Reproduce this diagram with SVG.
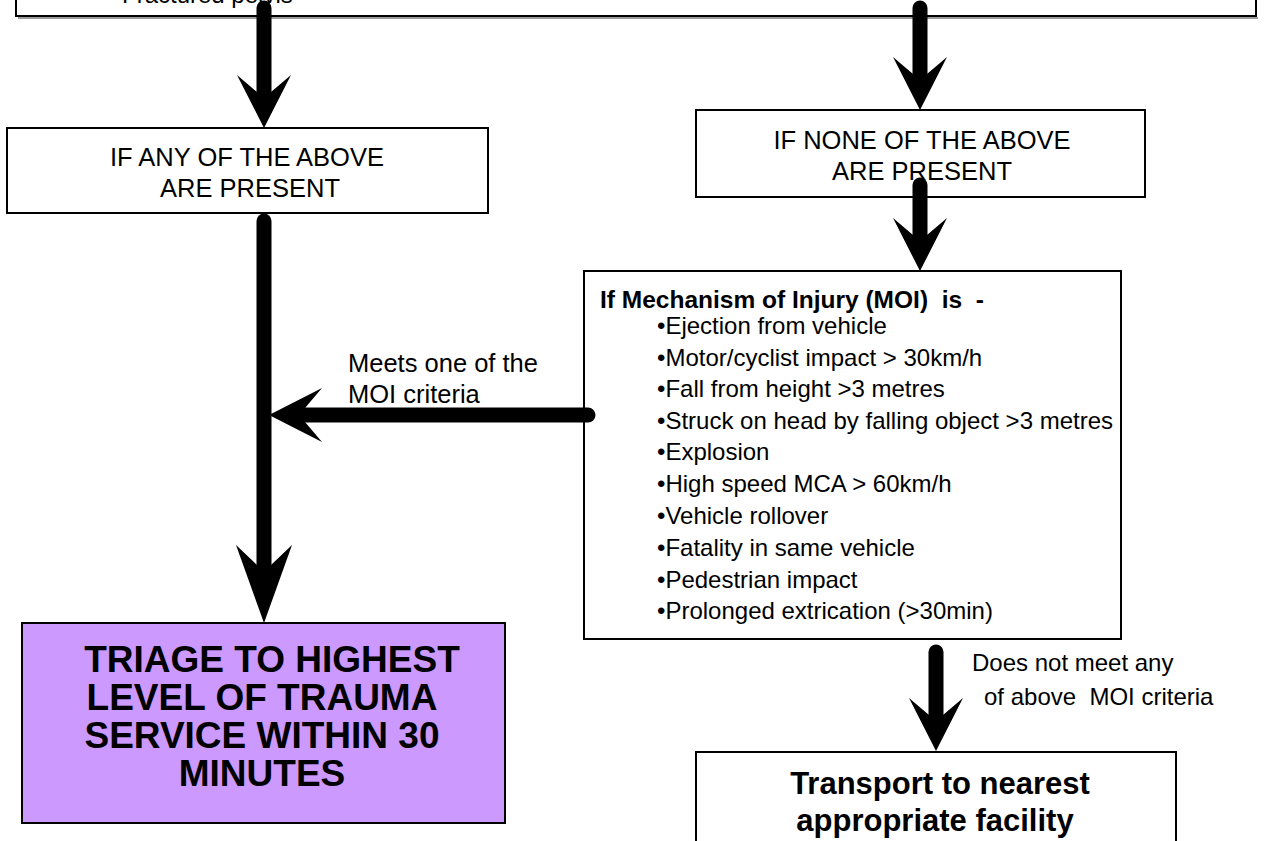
<svg xmlns="http://www.w3.org/2000/svg" width="1273" height="841" viewBox="0 0 1273 841">
<style>
.box{fill:#ffffff;stroke:#000000;stroke-width:2}
.purple{fill:#cc99ff;stroke:#000000;stroke-width:2}
.shaft{fill:none;stroke:#000000;stroke-width:15;stroke-linecap:round}
.t{font-family:"Liberation Sans",Arial,sans-serif;font-size:24px;fill:#000000}
.l{font-family:"Liberation Sans",Arial,sans-serif;font-size:25.5px;fill:#000000}
.tc{font-family:"Liberation Sans",Arial,sans-serif;font-size:25.5px;fill:#000000;text-anchor:middle}
.b{font-family:"Liberation Sans",Arial,sans-serif;font-weight:bold;fill:#000000}
</style>
<defs>
<path id="head" d="M0,0 L-27,-53 L-7,-36 L7,-36 L27,-53 Z" fill="#000000"/>
<path id="headL" d="M0,0 L-28,-78 L-7,-58 L7,-58 L28,-78 Z" fill="#000000"/>
</defs>

<g id="node-top">
<line x1="18" y1="18" x2="1258" y2="18" stroke="#9a9a9a" stroke-width="2"/>
<rect class="box" x="16" y="-10" width="1240" height="26"/>
<text class="t" x="122" y="3">Fractured pelvis</text>
</g>

<g id="node-any">
<rect class="box" x="7" y="128" width="481" height="85"/>
<text class="tc" x="247" y="166">IF ANY OF THE ABOVE</text>
<text class="tc" x="250" y="197">ARE PRESENT</text>
</g>

<g id="node-none">
<rect class="box" x="696" y="110" width="449" height="87"/>
<text class="tc" x="922" y="149">IF NONE OF THE ABOVE</text>
<text class="tc" x="922" y="180">ARE PRESENT</text>
</g>

<g id="node-moi">
<rect class="box" x="584" y="271" width="537" height="368"/>
<text class="b" x="600" y="308" font-size="24.5" xml:space="preserve">If Mechanism of Injury (MOI)  is  -</text>
<text class="t" x="657" y="334">•Ejection from vehicle</text>
<text class="t" x="657" y="366">•Motor/cyclist impact &gt; 30km/h</text>
<text class="t" x="657" y="397">•Fall from height &gt;3 metres</text>
<text class="t" x="657" y="429">•Struck on head by falling object &gt;3 metres</text>
<text class="t" x="657" y="460">•Explosion</text>
<text class="t" x="657" y="492">•High speed MCA &gt; 60km/h</text>
<text class="t" x="657" y="524">•Vehicle rollover</text>
<text class="t" x="657" y="556">•Fatality in same vehicle</text>
<text class="t" x="657" y="588">•Pedestrian impact</text>
<text class="t" x="657" y="619">•Prolonged extrication (&gt;30min)</text>
</g>

<g id="node-triage">
<rect class="purple" x="22" y="623" width="483" height="200"/>
<text class="b" x="272" y="672" font-size="37" text-anchor="middle">TRIAGE TO HIGHEST</text>
<text class="b" x="262" y="710" font-size="37" text-anchor="middle">LEVEL OF TRAUMA</text>
<text class="b" x="262" y="748" font-size="37" text-anchor="middle">SERVICE WITHIN 30</text>
<text class="b" x="262" y="786" font-size="37" text-anchor="middle">MINUTES</text>
</g>

<g id="node-transport">
<rect class="box" x="696" y="752" width="480" height="100"/>
<text class="b" x="940" y="794" font-size="31" text-anchor="middle">Transport to nearest</text>
<text class="b" x="935" y="831" font-size="31" text-anchor="middle">appropriate facility</text>
</g>

<g id="connectors">
<line class="shaft" x1="264" y1="8" x2="264" y2="95"/>
<use href="#head" x="264" y="128"/>
<line class="shaft" x1="920" y1="8" x2="920" y2="78"/>
<use href="#head" x="920" y="110"/>
<line class="shaft" x1="920" y1="185" x2="920" y2="240"/>
<use href="#head" x="920" y="271"/>
<line class="shaft" x1="264" y1="221" x2="264" y2="580"/>
<use href="#headL" x="264" y="623"/>
<line class="shaft" x1="588" y1="415" x2="300" y2="415"/>
<use href="#head" transform="translate(269,415) rotate(90)"/>
<text class="l" x="348" y="372">Meets one of the</text>
<text class="l" x="348" y="403">MOI criteria</text>
<line class="shaft" x1="936" y1="652" x2="936" y2="720"/>
<use href="#head" x="936" y="751"/>
<text class="t" x="972" y="671">Does not meet any</text>
<text class="t" x="984" y="705" xml:space="preserve">of above  MOI criteria</text>
</g>
</svg>
